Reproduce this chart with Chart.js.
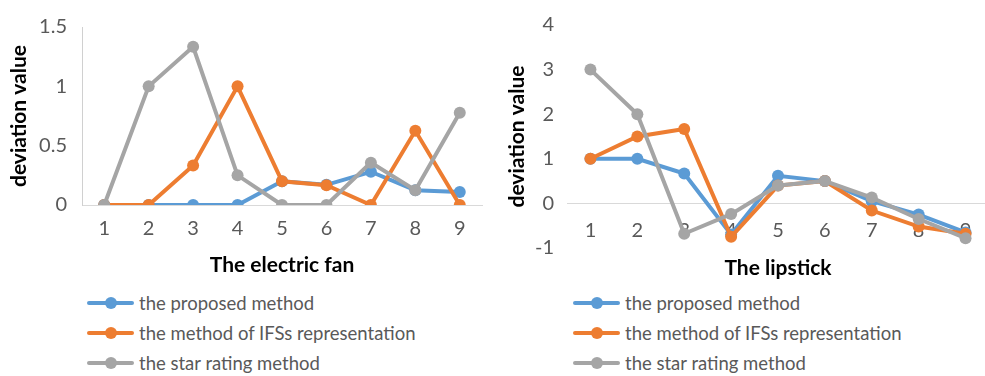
<!DOCTYPE html>
<html lang="en">
<head>
    <meta charset="UTF-8">
    <title>Deviation values</title>
    <script src="https://cdn.jsdelivr.net/npm/chart.js"></script>
    <style>
        body { margin: 0; width: 985px; height: 376px; overflow: hidden; background: #fff; font-family: Lato, sans-serif; position: relative; }
        .chart-box { position: absolute; top: 0; height: 285px; }
        .legend { position: absolute; top: 288px; margin: 0; padding: 0; list-style: none; }
        .legend li { height: 30px; display: flex; align-items: center; font-size: 18.5px; color: #595959; }
        .legend .key { position: relative; width: 47px; height: 4px; border-radius: 2px; margin-right: 5px; }
        .legend .key span { position: absolute; left: 18px; top: -4px; width: 12px; height: 12px; border-radius: 50%; background: inherit; }
    </style>
</head>
<body>
    <div class="chart-box" style="left:0; width:490px;"><canvas id="chartFan"></canvas></div>
    <div class="chart-box" style="left:490px; width:505px;"><canvas id="chartLipstick"></canvas></div>
    <ul class="legend" id="legendFan" style="left:87px;"></ul>
    <ul class="legend" id="legendLipstick" style="left:573px;"></ul>

    <script>
        const categories = ["1", "2", "3", "4", "5", "6", "7", "8", "9"];
        const seriesNames = ["the proposed method", "the method of IFSs representation", "the star rating method"];
        const seriesColors = ["#5B9BD5", "#ED7D31", "#A5A5A5"];

        // The electric fan
        const fanProposed = [0, 0, 0, 0, 0.2, 0.17, 0.28, 0.125, 0.11];
        const fanIFS = [0, 0, 0.333, 1, 0.2, 0.167, 0, 0.625, 0];
        const fanStar = [0, 1, 1.333, 0.25, 0, 0, 0.357, 0.125, 0.778];
        const fanTicks = { min: 0, max: 1.5, step: 0.5 };

        // The lipstick
        const lipProposed = [1, 1, 0.67, -0.7, 0.62, 0.5, 0.05, -0.25, -0.65];
        const lipIFS = [1, 1.5, 1.67, -0.75, 0.4, 0.5, -0.16, -0.52, -0.68];
        const lipStar = [3, 2, -0.68, -0.24, 0.4, 0.5, 0.13, -0.35, -0.78];
        const lipTicks = { min: -1, max: 4, step: 1 };

        Chart.defaults.font.family = "Lato, sans-serif";
        Chart.defaults.color = "#595959";
        Chart.defaults.animation = false;

        function makeDatasets(values) {
            // later series sit on top, like the original
            return values.map((data, i) => ({
                label: seriesNames[i],
                data: data,
                borderColor: seriesColors[i],
                backgroundColor: seriesColors[i],
                borderWidth: 4,
                pointRadius: 6,
                pointBorderWidth: 0,
                pointHoverRadius: 6,
                tension: 0,
                order: values.length - i
            }));
        }

        function renderChart(canvasId, values, ticks, title, opts) {
            const ctx = document.getElementById(canvasId).getContext("2d");
            return new Chart(ctx, {
                type: "line",
                data: { labels: categories, datasets: makeDatasets(values) },
                options: {
                    responsive: true,
                    maintainAspectRatio: false,
                    layout: { padding: opts.padding },
                    plugins: { legend: { display: false }, tooltip: { enabled: false } },
                    scales: {
                        x: {
                            position: opts.xPosition,
                            offset: true,
                            grid: { display: false, drawTicks: false, offset: true },
                            border: { display: true, color: "#D9D9D9", width: 1 },
                            ticks: { padding: opts.xTickPad, font: { size: 20 } },
                            title: {
                                display: true, text: title, color: "#000",
                                font: { size: 21, weight: "bold" },
                                padding: { top: 0, bottom: opts.titlePad }
                            },
                            afterFit: s => { s.height = 80; }
                        },
                        y: {
                            min: ticks.min,
                            max: ticks.max,
                            grid: { display: false, drawTicks: false },
                            border: { display: opts.yBorder, color: "#D0D0D0", width: 1 },
                            ticks: {
                                stepSize: ticks.step, padding: opts.yTickPad, font: { size: 20 },
                                callback: v => String(Number(v.toFixed(2)))
                            },
                            title: {
                                display: true, text: "deviation value", color: "#000",
                                font: { size: 21, weight: "bold" },
                                padding: { top: opts.yTitlePad, bottom: 0 }
                            },
                            afterFit: s => { s.width = opts.yWidth; }
                        }
                    }
                }
            });
        }

        function buildLegend(listId) {
            const list = document.getElementById(listId);
            seriesNames.forEach((name, i) => {
                const li = document.createElement("li");
                li.innerHTML = '<div class="key" style="background:' + seriesColors[i] + '"><span></span></div>' + name;
                list.appendChild(li);
            });
        }

        renderChart("chartFan", [fanProposed, fanIFS, fanStar], fanTicks, "The electric fan", {
            padding: { top: 23, bottom: 0, left: 0, right: 8 },
            xPosition: "bottom", xTickPad: 12, titlePad: 7,
            yBorder: true, yTickPad: 15, yTitlePad: 7, yWidth: 82
        });

        renderChart("chartLipstick", [lipProposed, lipIFS, lipStar], lipTicks, "The lipstick", {
            padding: { top: 13, bottom: 37, left: 0, right: 0 },
            xPosition: { y: 0 }, xTickPad: 15, titlePad: 3,
            yBorder: false, yTickPad: 13, yTitlePad: 15, yWidth: 77
        });

        buildLegend("legendFan");
        buildLegend("legendLipstick");
    </script>
</body>
</html>
